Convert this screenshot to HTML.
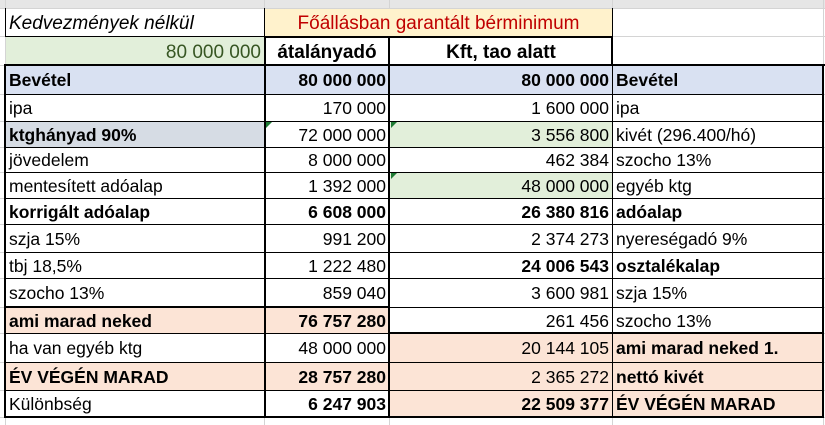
<!DOCTYPE html>
<html><head><meta charset="utf-8">
<style>
body{margin:0;width:825px;height:425px;overflow:hidden;background:#fff;font-family:"Liberation Sans",sans-serif;position:relative}
.c{position:absolute;box-sizing:border-box;font-size:17.5px;line-height:1;display:flex;align-items:center;padding:2px 3px 0 3px;white-space:nowrap;color:#000}
.r{justify-content:flex-end}
.ctr{justify-content:center}
.b{font-weight:bold}
.big{font-size:19px}
.l{position:absolute;background:#000}
</style></head>
<body>
<div style="position:absolute;left:0;top:0;width:825px;height:8px;background:#e6e6e6;border-bottom:1px solid #c8c8c8"></div>
<div id="grid"></div>
<script>
const X=[5,264,389,612,823];
const Y=[8,36,65,94,121,147,172,198,224,252,278,307,333,362,390,417];
const W='#fff',BL='#d9e1f2',GR='#e2efda',YE='#fff2cc',PE='#fce4d6',BG='#d6dce4';
const cells=[
[0,0,1,'Kedvezmények nélkül','it big',W],
[0,1,2,'Főállásban garantált bérminimum','ctr big',YE,'#c00000'],
[1,0,1,'80 000 000','r big',GR,'#375623'],
[1,1,1,'átalányadó','ctr b big',W],
[1,2,1,'Kft, tao alatt','ctr b big',W],
[2,0,1,'Bevétel','b',BL],[2,1,1,'80 000 000','r b',BL],[2,2,1,'80 000 000','r b',BL],[2,3,1,'Bevétel','b',BL],
[3,0,1,'ipa','',W],[3,1,1,'170 000','r',W],[3,2,1,'1 600 000','r',W],[3,3,1,'ipa','',W],
[4,0,1,'ktghányad 90%','b',BG],[4,1,1,'72 000 000','r',W],[4,2,1,'3 556 800','r',GR],[4,3,1,'kivét (296.400/hó)','',W],
[5,0,1,'jövedelem','',W],[5,1,1,'8 000 000','r',W],[5,2,1,'462 384','r',W],[5,3,1,'szocho 13%','',W],
[6,0,1,'mentesített adóalap','',W],[6,1,1,'1 392 000','r',W],[6,2,1,'48 000 000','r',GR],[6,3,1,'egyéb ktg','',W],
[7,0,1,'korrigált adóalap','b',W],[7,1,1,'6 608 000','r b',W],[7,2,1,'26 380 816','r b',W],[7,3,1,'adóalap','b',W],
[8,0,1,'szja 15%','',W],[8,1,1,'991 200','r',W],[8,2,1,'2 374 273','r',W],[8,3,1,'nyereségadó 9%','',W],
[9,0,1,'tbj 18,5%','',W],[9,1,1,'1 222 480','r',W],[9,2,1,'24 006 543','r b',W],[9,3,1,'osztalékalap','b',W],
[10,0,1,'szocho 13%','',W],[10,1,1,'859 040','r',W],[10,2,1,'3 600 981','r',W],[10,3,1,'szja 15%','',W],
[11,0,1,'ami marad neked','b',PE],[11,1,1,'76 757 280','r b',PE],[11,2,1,'261 456','r',W],[11,3,1,'szocho 13%','',W],
[12,0,1,'ha van egyéb ktg','',W],[12,1,1,'48 000 000','r',W],[12,2,1,'20 144 105','r',PE],[12,3,1,'ami marad neked 1.','b',PE],
[13,0,1,'ÉV VÉGÉN MARAD','b',PE],[13,1,1,'28 757 280','r b',PE],[13,2,1,'2 365 272','r',PE],[13,3,1,'nettó kivét','b',PE],
[14,0,1,'Különbség','',W],[14,1,1,'6 247 903','r b',W],[14,2,1,'22 509 377','r b',PE],[14,3,1,'ÉV VÉGÉN MARAD','b',PE]
];
const g=document.getElementById('grid');
function line(x,y,w,h,c,name){const d=document.createElement('div');d.className='l';d.style.cssText=`left:${x}px;top:${y}px;width:${w}px;height:${h}px;background:${c}`;


g.appendChild(d);}
for(const x of X) line(x,0,1,425,'#d4d4d4','gridline-v');
for(const y of Y) line(0,y,825,1,'#d4d4d4','gridline-h');
cells.forEach(([r,c,s,t,cls,bg,col])=>{
 const d=document.createElement('div');
 d.className='c '+cls;
 d.style.left=(X[c]+1)+'px';d.style.top=(Y[r]+1)+'px';
 d.style.width=(X[c+s]-X[c]-1)+'px';d.style.height=(Y[r+1]-Y[r]-1)+'px';
 d.style.background=bg;if(col)d.style.color=col;
 if(cls.includes('it'))d.style.fontStyle='italic';
 d.textContent=t;
 
 
 g.appendChild(d);
});
for(let r=2;r<=15;r++) line(5,Y[r],818,1,'#000','cell-border-h');
for(const x of X) line(x,65,1,352,'#000','cell-border-v');
line(5,8,1,28,'#000','cell-border-v');line(264,8,1,57,'#000','cell-border-v');line(612,8,1,28,'#000','cell-border-v');
line(5,36,607,1,'#000','cell-border-h');
line(264,36,2,381,'#000','thick-border');
line(388,36,2,381,'#000','thick-border');
line(611,36,2,29,'#000','thick-border');
line(4,64,821,2,'#000','thick-border');
line(4,64,2,354,'#000','thick-border');
line(822,64,2,354,'#000','thick-border');
line(4,416,820,2,'#000','thick-border');
line(4,306,385,2,'#000','thick-border');
line(389,332,435,2,'#000','thick-border');
line(264,36,125,2,'#000','thick-border');
line(389,36,224,2,'#000','thick-border');
[[4,2],[6,2],[4,1]].forEach(([r,c])=>{const t=document.createElement('div');
t.style.cssText=`position:absolute;left:${X[c]+2}px;top:${Y[r]+1}px;width:0;height:0;border-top:6px solid #1e7b34;border-right:6px solid transparent`;


g.appendChild(t);});
</script>
</body></html>
